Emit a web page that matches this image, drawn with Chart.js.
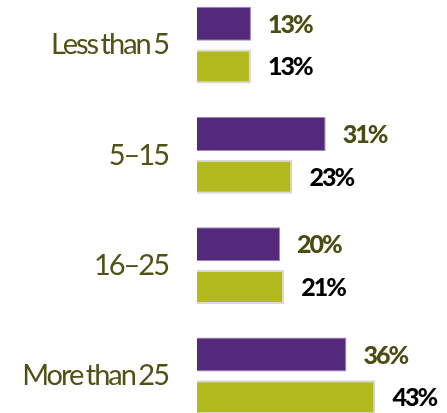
<!DOCTYPE html>
<html>
<head>
<meta charset="utf-8">
<script src="https://cdn.jsdelivr.net/npm/chart.js@4.4.1/dist/chart.umd.min.js"></script>
<style>
  html, body { margin: 0; padding: 0; background: #ffffff; overflow: hidden; }
  body { width: 447px; height: 413px; position: relative; }
  #wrap { position: absolute; left: 0; top: -10px; width: 447px; height: 441px; }
</style>
</head>
<body>
<div id="wrap"><canvas id="chart"></canvas></div>
<script>
// Years-of-experience groups and the two survey series (percent)
const categories = ['Less than 5', '5\u201315', '16\u201325', 'More than 25'];
const seriesPurple = [13, 31, 20, 36];
const seriesGreen = [13, 23, 21, 43];

const FONT = 'Lato, "Open Sans", sans-serif';

// Tight tracking for the axis labels
const tightText = {
  id: 'tightText',
  beforeDraw(chart) {
    chart.ctx.letterSpacing = '-2px';
    chart.ctx.wordSpacing = '-2px';
  }
};

// Writes each bar's percentage just past its end
const valueLabels = {
  id: 'valueLabels',
  afterDatasetsDraw(chart) {
    const ctx = chart.ctx;
    ctx.save();
    ctx.letterSpacing = '-2px';
    ctx.wordSpacing = '0px';
    ctx.font = '900 25px ' + FONT;
    ctx.textAlign = 'left';
    ctx.textBaseline = 'middle';
    chart.data.datasets.forEach((ds, di) => {
      const meta = chart.getDatasetMeta(di);
      ctx.fillStyle = ds.labelColor;
      meta.data.forEach((bar, i) => {
        ctx.fillText(ds.data[i] + '%', bar.x + 17, bar.y + 1);
      });
    });
    ctx.restore();
  }
};

new Chart(document.getElementById('chart'), {
  type: 'bar',
  data: {
    labels: categories,
    datasets: [
      {
        data: seriesPurple,
        backgroundColor: '#54297B',
        borderColor: '#9E86BC',
        borderWidth: 1,
        labelColor: '#4B4B12'
      },
      {
        data: seriesGreen,
        backgroundColor: '#B2BA20',
        borderColor: '#D9D9D9',
        borderWidth: 2,
        labelColor: '#000000'
      }
    ]
  },
  options: {
    indexAxis: 'y',
    responsive: true,
    maintainAspectRatio: false,
    animation: false,
    categoryPercentage: 0.771,
    barPercentage: 0.8,
    layout: { padding: { left: 0, right: 1, top: 0, bottom: 0 } },
    plugins: {
      legend: { display: false },
      tooltip: { enabled: false }
    },
    scales: {
      x: {
        display: false,
        min: 0,
        max: 60
      },
      y: {
        afterFit(scale) {
          scale.width = 197;
          scale.paddingTop = 0;
          scale.paddingBottom = 0;
        },
        grid: { display: false, drawTicks: false },
        border: { display: false },
        ticks: {
          padding: 29,
          color: '#4F5115',
          font: { family: FONT, size: 29 }
        }
      }
    }
  },
  plugins: [tightText, valueLabels]
});
</script>
</body>
</html>
